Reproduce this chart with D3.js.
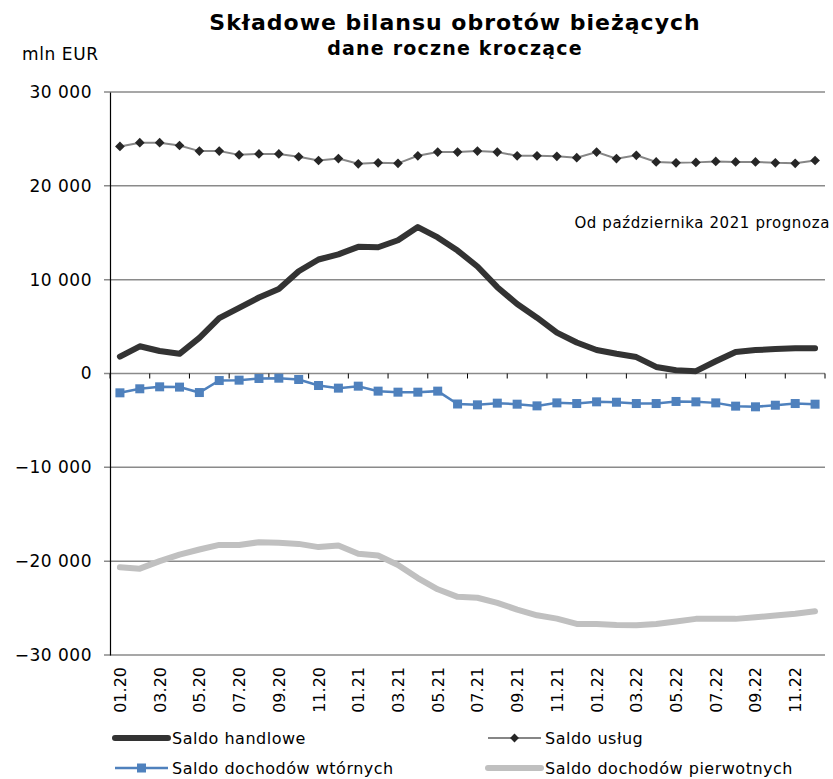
<!DOCTYPE html>
<html>
<head>
<meta charset="utf-8">
<script src="https://cdn.jsdelivr.net/npm/d3@7"></script>
<style>
  body { margin: 0; background: #fff; }
  text { font-family: "DejaVu Sans", Verdana, sans-serif; fill: #000; }
</style>
</head>
<body>
<svg id="chart"></svg>
<script>
// months 01.20 .. 12.22
const months = [];
for (const yy of ["20", "21", "22"]) {
  for (let m = 1; m <= 12; m++) months.push(String(m).padStart(2, "0") + "." + yy);
}

const handlowe = [1800, 2900, 2400, 2100, 3800, 5900, 7000, 8100, 9000, 10900, 12150, 12700,
  13500, 13450, 14200, 15600, 14500, 13100, 11400, 9200, 7400, 5950, 4350, 3300,
  2500, 2100, 1750, 700, 350, 250, 1300, 2300, 2500, 2600, 2700, 2700];
const uslug = [24200, 24600, 24600, 24300, 23700, 23700, 23300, 23400, 23400, 23100, 22700, 22900,
  22350, 22450, 22400, 23200, 23600, 23600, 23700, 23600, 23200, 23200, 23150, 23000,
  23600, 22900, 23250, 22550, 22450, 22500, 22600, 22550, 22550, 22450, 22400, 22700];
const wtorne = [-2060, -1630, -1420, -1450, -2030, -750, -710, -530, -500, -640, -1280, -1560,
  -1350, -1880, -1990, -1990, -1880, -3250, -3340, -3160, -3270, -3450, -3130, -3200,
  -3020, -3060, -3200, -3200, -2980, -3020, -3130, -3480, -3550, -3380, -3200, -3270];
const pierwotne = [-20650, -20800, -20000, -19300, -18760, -18270, -18270, -17980, -18050, -18160, -18500, -18340,
  -19200, -19400, -20400, -21800, -23000, -23800, -23900, -24450, -25160, -25770, -26120, -26690,
  -26700, -26800, -26830, -26700, -26440, -26150, -26150, -26150, -25970, -25800, -25600, -25340];
const yTicks = [30000, 20000, 10000, 0, -10000, -20000, -30000];

const width = 833, height = 779;
const margin = { top: 92, right: 8, bottom: 124, left: 110 };

const svg = d3.select("#chart").attr("width", width).attr("height", height);

const x = d3.scaleBand()
  .domain(months)
  .range([margin.left, width - margin.right])
  .padding(0);
const cx = d => x(d) + x.bandwidth() / 2;

const y = d3.scaleLinear()
  .domain([-30000, 30000])
  .range([height - margin.bottom, margin.top]);

const fmt = v => d3.format(",")(v).replace(/,/g, " ");

// gridlines
svg.append("g")
  .selectAll("line")
  .data(yTicks)
  .join("line")
  .attr("x1", margin.left - 6)
  .attr("x2", width - margin.right)
  .attr("y1", d => y(d))
  .attr("y2", d => y(d))
  .attr("stroke", "#8a8a8a")
  .attr("stroke-width", 1.5);

// y axis
const yAxis = d3.axisLeft(y).tickValues(yTicks).tickSize(0).tickPadding(18).tickFormat(fmt);
const gy = svg.append("g")
  .attr("transform", `translate(${margin.left},0)`)
  .call(yAxis);
gy.select(".domain").attr("stroke", "#000").attr("stroke-width", 1.2);
gy.selectAll("text")
  .style("font-size", "17px")
  .style("letter-spacing", "0.5px")
  .style("font-family", "DejaVu Sans, Verdana, sans-serif");

// x axis on zero line, ticks every 2 months
const tickMonths = months.filter((d, i) => i % 2 === 0);
const xTickG = svg.append("g");
xTickG.selectAll("line")
  .data(tickMonths.concat(["end"]))
  .join("line")
  .attr("x1", d => d === "end" ? width - margin.right : x(d))
  .attr("x2", d => d === "end" ? width - margin.right : x(d))
  .attr("y1", y(0))
  .attr("y2", y(0) + 5)
  .attr("stroke", "#000")
  .attr("stroke-width", 1);

// x labels at bottom, rotated
svg.append("g")
  .selectAll("text")
  .data(tickMonths)
  .join("text")
  .attr("transform", d => `translate(${cx(d) + 6},${height - margin.bottom + 12}) rotate(-90)`)
  .attr("text-anchor", "end")
  .style("font-size", "16px")
  .text(d => d);

const line = d3.line().x((d, i) => cx(months[i])).y(d => y(d));

// series
svg.append("path").datum(pierwotne)
  .attr("d", line).attr("fill", "none")
  .attr("stroke", "#c0c0c0").attr("stroke-width", 6).attr("stroke-linejoin", "round").attr("stroke-linecap", "round");

svg.append("path").datum(handlowe)
  .attr("d", line).attr("fill", "none")
  .attr("stroke", "#333333").attr("stroke-width", 6).attr("stroke-linejoin", "round").attr("stroke-linecap", "round");

svg.append("path").datum(uslug)
  .attr("d", line).attr("fill", "none")
  .attr("stroke", "#868686").attr("stroke-width", 2);
svg.append("g").selectAll("path")
  .data(uslug)
  .join("path")
  .attr("transform", (d, i) => `translate(${cx(months[i])},${y(d)})`)
  .attr("d", d3.symbol(d3.symbolDiamond2, 60))
  .attr("fill", "#262626");

svg.append("path").datum(wtorne)
  .attr("d", line).attr("fill", "none")
  .attr("stroke", "#4f81bd").attr("stroke-width", 2.5);
svg.append("g").selectAll("rect")
  .data(wtorne)
  .join("rect")
  .attr("x", (d, i) => cx(months[i]) - 4.5)
  .attr("y", d => y(d) - 4.5)
  .attr("width", 9)
  .attr("height", 9)
  .attr("fill", "#4f81bd");

// titles
svg.append("text").attr("x", 455).attr("y", 30).attr("text-anchor", "middle")
  .style("font-size", "22px").style("font-weight", "bold").style("letter-spacing", "1px")
  .text("Składowe bilansu obrotów bieżących");
svg.append("text").attr("x", 455).attr("y", 55).attr("text-anchor", "middle")
  .style("font-size", "19px").style("font-weight", "bold").style("letter-spacing", "1.2px")
  .text("dane roczne kroczące");
svg.append("text").attr("x", 22).attr("y", 60)
  .style("font-size", "17px").style("letter-spacing", "0.6px")
  .text("mln EUR");
svg.append("text").attr("x", 830).attr("y", 228).attr("text-anchor", "end")
  .style("font-size", "15px").style("letter-spacing", "0.6px")
  .text("Od października 2021 prognoza");

// legend
const legend = [
  { name: "Saldo handlowe", color: "#333333", w: 6, marker: null, lx: 115, ly: 738 },
  { name: "Saldo usług", color: "#868686", w: 2, marker: "diamond", lx: 488, ly: 738 },
  { name: "Saldo dochodów wtórnych", color: "#4f81bd", w: 2.5, marker: "square", lx: 115, ly: 768 },
  { name: "Saldo dochodów pierwotnych", color: "#c0c0c0", w: 6, marker: null, lx: 488, ly: 768 }
];
const lg = svg.append("g").selectAll("g").data(legend).join("g")
  .attr("transform", d => `translate(${d.lx},${d.ly})`);
lg.append("line")
  .attr("x1", 0).attr("x2", 53).attr("y1", 0).attr("y2", 0)
  .attr("stroke", d => d.color).attr("stroke-width", d => d.w)
  .attr("stroke-linecap", d => d.w > 3 ? "round" : "butt");
lg.filter(d => d.marker === "diamond").append("path")
  .attr("transform", "translate(26.5,0)")
  .attr("d", d3.symbol(d3.symbolDiamond2, 50))
  .attr("fill", "#262626");
lg.filter(d => d.marker === "square").append("rect")
  .attr("x", 22).attr("y", -4.5).attr("width", 9).attr("height", 9)
  .attr("fill", "#4f81bd");
lg.append("text")
  .attr("x", 57).attr("y", 6)
  .style("font-size", "16px").style("letter-spacing", "0.5px")
  .text(d => d.name);
</script>
</body>
</html>
